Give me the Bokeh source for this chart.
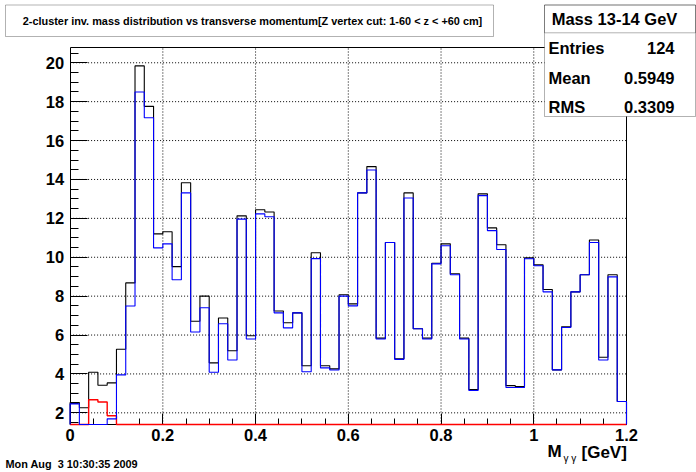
import numpy as np
from bokeh.plotting import figure
from bokeh.models import FixedTicker, LinearAxis, Label, BoxAnnotation, Range1d
from bokeh.embed import file_html
from bokeh.resources import INLINE

# ---------------- data ----------------
bin_start = 0.0
bin_width = 0.02

black_counts = [2.53, 2.26, 4.09, 3.42, 3.54, 5.27, 8.68, 19.84, 17.76, 11.20,
                11.31, 9.52, 13.83, 6.71, 8.00, 4.57, 6.88, 5.19, 12.13, 5.96,
                12.44, 12.33, 7.24, 6.63, 7.14, 4.42, 10.23, 4.42, 4.26, 8.07,
                7.60, 13.31, 14.66, 5.84, 10.76, 4.78, 13.31, 6.32, 5.84, 9.69,
                10.69, 9.15, 5.84, 3.20, 13.26, 11.51, 10.64, 3.40, 3.35, 9.97,
                9.61, 8.34, 4.21, 6.42, 8.22, 9.10, 10.89, 4.86, 9.10, 2.58]

blue_counts = [2.46, 0.0, 0.0, 0.0, 1.69, 3.95, 7.49, 18.50, 17.17, 10.48,
               10.69, 8.84, 13.31, 6.16, 7.40, 4.09, 6.58, 4.72, 11.96, 5.80,
               12.23, 12.08, 7.14, 6.37, 7.14, 4.11, 9.93, 4.31, 4.20, 8.00,
               7.50, 13.31, 14.49, 5.80, 10.76, 4.75, 13.05, 6.32, 5.80, 9.66,
               10.59, 9.10, 5.80, 3.15, 13.17, 11.37, 10.40, 3.30, 3.30, 9.92,
               9.56, 8.22, 4.21, 6.39, 8.22, 9.10, 10.76, 4.72, 8.99, 2.58]

red_counts = [0.0, 0.0, 2.67, 2.56, 1.85, 0.0, 0.0, 0.0, 0.0, 0.0,
              0.0, 0.0, 0.0, 0.0, 0.0, 0.0, 0.0, 0.0, 0.0, 0.0,
              0.0, 0.0, 0.0, 0.0, 0.0, 0.0, 0.0, 0.0, 0.0, 0.0,
              0.0, 0.0, 0.0, 0.0, 0.0, 0.0, 0.0, 0.0, 0.0, 0.0,
              0.0, 0.0, 0.0, 0.0, 0.0, 0.0, 0.0, 0.0, 0.0, 0.0,
              0.0, 0.0, 0.0, 0.0, 0.0, 0.0, 0.0, 0.0, 0.0, 0.0]

x_ticks = [0.0, 0.2, 0.4, 0.6, 0.8, 1.0, 1.2]
x_tick_labels = ["0", "0.2", "0.4", "0.6", "0.8", "1", "1.2"]
y_ticks = [2, 4, 6, 8, 10, 12, 14, 16, 18, 20]
y_tick_labels = ["2", "4", "6", "8", "10", "12", "14", "16", "18", "20"]

title_text = "2-cluster inv. mass distribution vs transverse momentum[Z vertex cut: 1-60 < z < +60 cm]"
stats_title = "Mass 13-14 GeV"
stats_names = ["Entries", "Mean", "RMS"]
stats_values = ["124", "0.5949", "0.3309"]
date_text = "Mon Aug \u00a03 10:30:35 2009"

# ---------------- layout ----------------
W, H = 696, 472
X_MIN, X_MAX = 0.0, 1.2        # histogram axis range
Y_MIN, Y_MAX = 1.4, 20.77
# pixel box of the histogram frame inside the canvas (from top-left)
PF_L, PF_R, PF_T, PF_B = 69.6, 626.0, 47.3, 424.0
kx = (PF_R - PF_L) / (X_MAX - X_MIN)
ky = (PF_B - PF_T) / (Y_MAX - Y_MIN)
XR = (X_MIN - PF_L / kx, X_MAX + (W - PF_R) / kx)
YR = (Y_MIN - (H - PF_B) / ky, Y_MAX + PF_T / ky)
FONT = "Liberation Sans"


def sx(px):
    return px


def sy(py):
    return H - py


p = figure(width=W, height=H, x_range=Range1d(*XR), y_range=Range1d(*YR),
           output_backend="svg", toolbar_location=None, title=None,
           min_border=0, min_border_left=0, min_border_right=0, min_border_top=0, min_border_bottom=0,
           background_fill_color="white", border_fill_color="white")
p.outline_line_color = None
p.xgrid.visible = False
p.ygrid.visible = False

# axes drawn at fixed data locations, bounded to the histogram frame
xa = p.xaxis[0]
xa.fixed_location = Y_MIN
xa.bounds = (X_MIN, X_MAX)
xa.ticker = FixedTicker(ticks=x_ticks, minor_ticks=list(np.arange(0.0, 1.2001, 0.05)))
xa.major_label_overrides = dict(zip(x_ticks, x_tick_labels))
xa.major_tick_in = 11
xa.major_tick_out = 0
xa.minor_tick_in = 6
xa.minor_tick_out = 0
xa.major_label_standoff = 4

ya = p.yaxis[0]
ya.fixed_location = X_MIN
ya.bounds = (Y_MIN, Y_MAX)
ya.ticker = FixedTicker(ticks=y_ticks, minor_ticks=list(np.arange(1.5, 20.8, 0.5)))
ya.major_label_overrides = dict(zip(y_ticks, y_tick_labels))
ya.major_tick_in = 17
ya.major_tick_out = 0
ya.minor_tick_in = 8
ya.minor_tick_out = 0
ya.major_label_standoff = 6

for ax in (xa, ya):
    ax.axis_line_color = "black"
    ax.major_tick_line_color = "black"
    ax.minor_tick_line_color = "black"
    ax.major_label_text_font = FONT
    ax.major_label_text_font_style = "bold"
    ax.major_label_text_font_size = "16.5px"
    ax.major_label_text_color = "black"

# top and right frame edges
top_ax = LinearAxis(fixed_location=Y_MAX, bounds=(X_MIN, X_MAX), ticker=FixedTicker(ticks=[]),
                    axis_line_color="black", major_tick_line_color=None, minor_tick_line_color=None,
                    major_label_text_font_size="0px")
right_ax = LinearAxis(fixed_location=X_MAX, bounds=(Y_MIN, Y_MAX), ticker=FixedTicker(ticks=[]),
                      axis_line_color="black", major_tick_line_color=None, minor_tick_line_color=None,
                      major_label_text_font_size="0px")
p.add_layout(top_ax, "above")
p.add_layout(right_ax, "right")

# dotted grid at the major ticks, limited to the histogram frame
gx = [t for t in x_ticks if X_MIN < t < X_MAX]
r = p.segment(x0=gx, y0=[Y_MIN] * len(gx), x1=gx, y1=[Y_MAX] * len(gx),
              line_color="black", line_width=1, line_dash="1 2")
r.level = "underlay"
gy = [t for t in y_ticks if Y_MIN < t < Y_MAX]
r = p.segment(x0=[X_MIN] * len(gy), y0=gy, x1=[X_MAX] * len(gy), y1=gy,
              line_color="black", line_width=1, line_dash="1 2")
r.level = "underlay"


def step_outline(counts):
    v = np.clip(np.asarray(counts, dtype=float), Y_MIN, Y_MAX)
    n = len(v)
    edges = bin_start + bin_width * np.arange(n + 1)
    xs = np.concatenate([[edges[0]], np.repeat(edges, 2)[1:-1], [edges[-1]]])
    ys = np.concatenate([[Y_MIN], np.repeat(v, 2), [Y_MIN]])
    return xs, ys


for counts, col, lw in ((black_counts, "#000000", 1.1), (red_counts, "#ff0000", 1.4),
                        (blue_counts, "#0000ff", 1.1)):
    xs, ys = step_outline(counts)
    r = p.line(xs, ys, line_color=col, line_width=lw)
    r.level = "annotation"


def box(l, r_, t, b, fill=1.0):
    return BoxAnnotation(left=sx(l), right=sx(r_), top=sy(t), bottom=sy(b),
                         left_units="screen", right_units="screen",
                         top_units="screen", bottom_units="screen",
                         fill_color="white", fill_alpha=fill, line_color="black", line_width=1)


def label(px, py, text, size, bold=True, align="left"):
    return Label(x=sx(px), y=sy(py), x_units="screen", y_units="screen", text=text,
                 text_align=align, text_baseline="middle", text_font=FONT,
                 text_font_style="bold" if bold else "normal",
                 text_font_size=size, text_color="black")


# title box
p.add_layout(box(5, 493, 4.5, 36))
p.add_layout(label(252, 20, title_text, "10.9px", bold=True, align="center"))

# stats box
p.add_layout(box(544, 695, 4.5, 116))
p.add_layout(box(544, 695, 4.5, 32.3, fill=0.0))
p.add_layout(label(614, 18, stats_title, "16.5px", align="center"))
for name, val, py in zip(stats_names, stats_values, (47, 77, 106)):
    p.add_layout(label(548, py, name, "16.5px"))
    p.add_layout(label(674, py, val, "16.5px", align="right"))

# x axis title  M_{gamma gamma} [GeV]
p.add_layout(label(547, 451, "M", "17px"))
p.add_layout(label(563, 458, "\u03b3 \u03b3", "10px", bold=False))
p.add_layout(label(581, 452, "[GeV]", "17px"))

# date stamp
p.add_layout(label(5, 463, date_text, "10.9px"))

open("out.html", "w").write(file_html(p, INLINE))
